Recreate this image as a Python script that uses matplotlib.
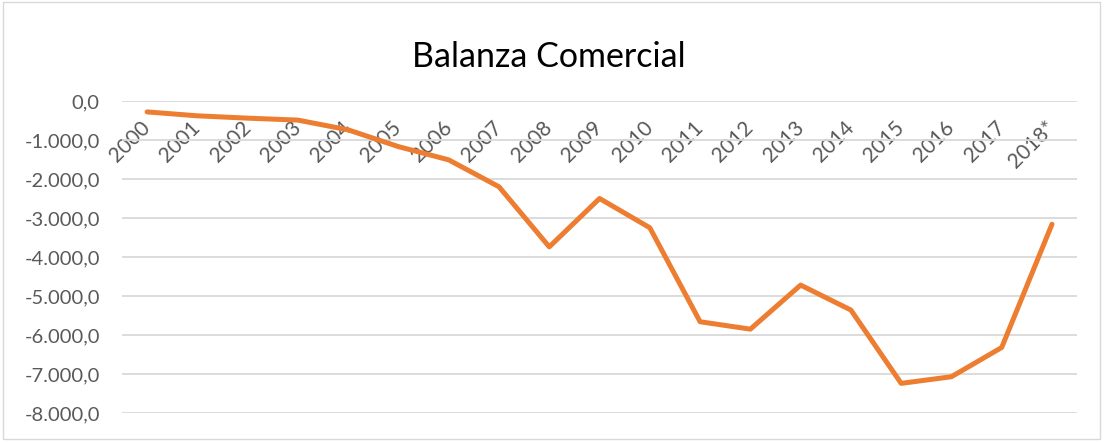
import matplotlib
matplotlib.use("Agg")
import matplotlib.pyplot as plt
from matplotlib.patches import Rectangle
from matplotlib.ticker import FuncFormatter, MultipleLocator

years = ["2000", "2001", "2002", "2003", "2004", "2005", "2006", "2007", "2008", "2009",
         "2010", "2011", "2012", "2013", "2014", "2015", "2016", "2017", "2018*"]
balanza = [-280, -380, -440, -490, -740, -1170, -1510, -2200, -3740, -2500,
           -3250, -5660, -5850, -4720, -5360, -7240, -7070, -6320, -3160]

FONT = "Lato"
GRAY = "#595959"

fig = plt.figure(figsize=(11.07, 4.42), dpi=100)
fig.patches.append(Rectangle((0.003, 0.007), 0.991, 0.988, transform=fig.transFigure,
                             fill=False, edgecolor="#D9D9D9", linewidth=1.0))

ax = fig.add_axes([0.1102, 0.0656, 0.973 - 0.1102, 0.7715 - 0.0656])
x = list(range(len(years)))
ax.plot(x, balanza, color="#ED7D31", linewidth=3.6, solid_joinstyle="round",
        solid_capstyle="round", zorder=3)

ax.set_xlim(-0.5, len(years) - 0.5)
ax.set_ylim(-8000, 0)
ax.yaxis.set_major_locator(MultipleLocator(1000))

def fmt(v, pos):
    s = f"{v:,.1f}"
    s = s.replace(",", "X").replace(".", ",").replace("X", ".")
    if s.startswith("-0,0"):
        s = "0,0"
    return s

ax.yaxis.set_major_formatter(FuncFormatter(fmt))
ax.grid(axis="y", color="#D9D9D9", linewidth=1.3)
ax.set_axisbelow(True)
for sp in ["left", "right", "top", "bottom"]:
    ax.spines[sp].set_visible(False)
ax.spines["bottom"].set_position(("data", 0))

ax.set_xticks(x)
ax.set_xticklabels(years)
ax.tick_params(axis="x", length=0, pad=17, labelsize=15, labelcolor=GRAY)
ax.tick_params(axis="y", length=0, pad=16, labelsize=14.5, labelcolor=GRAY)
for lab in ax.get_xticklabels():
    lab.set_rotation(45)
    lab.set_ha("right")
    lab.set_va("center")
    lab.set_rotation_mode("anchor")
    lab.set_fontfamily(FONT)
for lab in ax.get_yticklabels():
    lab.set_fontfamily(FONT)

fig.text(0.4955, 0.87, "Balanza Comercial", ha="center", va="center",
         fontsize=24.5, color="#000000", fontfamily=FONT)

fig.savefig("out.png", dpi=100)
